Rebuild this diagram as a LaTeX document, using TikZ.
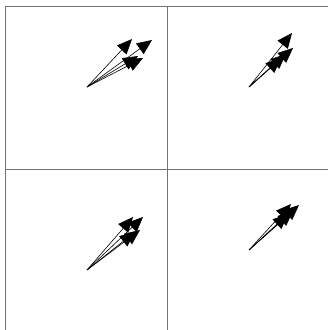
\documentclass[tikz,border=0pt]{standalone}
\usepackage{tikz}
\usetikzlibrary{arrows.meta}

\begin{document}
\begin{tikzpicture}[x=1bp, y=-1bp,
    vec/.style={-{Triangle[length=15bp,width=13bp]}, line width=0.6pt},
    frame/.style={draw=black!55, line width=1pt}]
    \useasboundingbox (0,0) rectangle (328,330);
    \draw[frame] (5,330) -- (5,6) -- (328,6);
    \draw[frame] (167,6) -- (167,330) (5,169) -- (328,169);
    \coordinate (o1) at (87,87);
    \coordinate (o2) at (249,87);
    \coordinate (o3) at (87,270);
    \coordinate (o4) at (249,250);
    \foreach \i/\x/\y in {1/132/39, 2/152/40, 3/143/58, 4/138/56}
        \coordinate (t1\i) at (\x,\y);
    \foreach \i/\x/\y in {1/292/33, 2/293/48, 3/286/54, 4/281/58}
        \coordinate (t2\i) at (\x,\y);
    \foreach \i/\x/\y in {1/133/217, 2/143/217, 3/140/230, 4/135/232}
        \coordinate (t3\i) at (\x,\y);
    \foreach \i/\x/\y in {1/291/204, 2/299/205, 3/293/211, 4/288/214}
        \coordinate (t4\i) at (\x,\y);
    \foreach \p in {1,2,3,4}
        \foreach \i in {1,2,3,4}
            \draw[vec] (o\p) -- (t\p\i);
\end{tikzpicture}
\end{document}
